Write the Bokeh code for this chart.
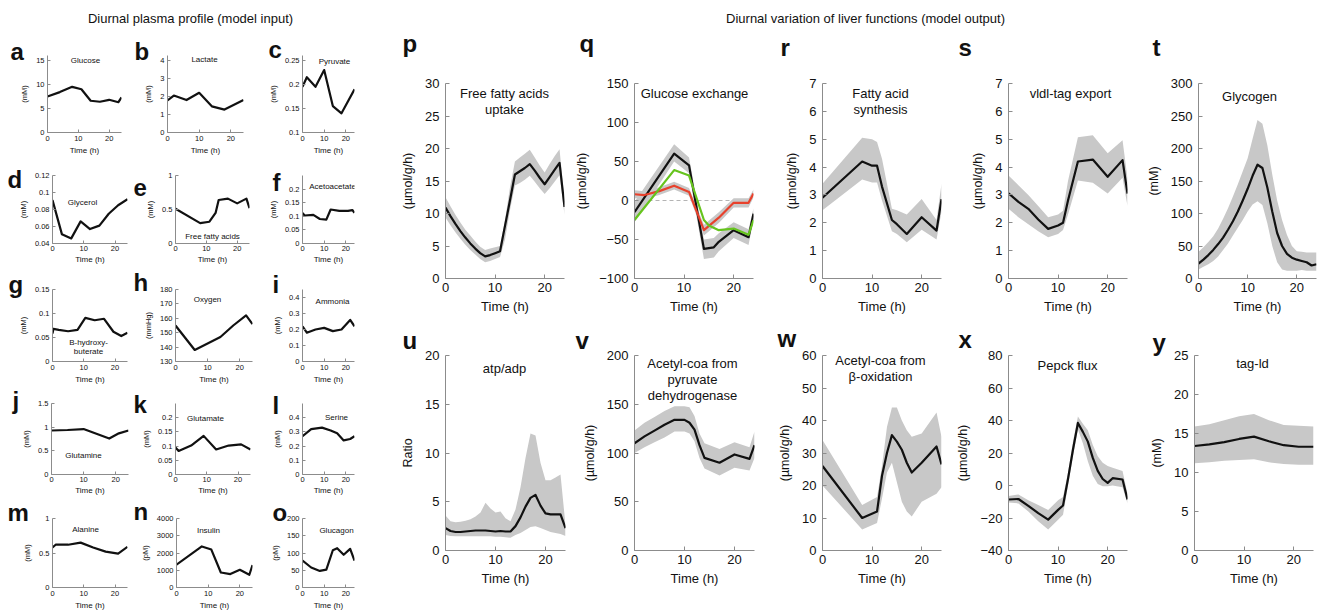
from bokeh.plotting import figure
from bokeh.models import Range1d, FixedTicker, Label, Span, CustomJSTickFormatter
from bokeh.layouts import row, column
from bokeh.embed import file_html
from bokeh.resources import INLINE

# ---------------------------------------------------------------- plasma inputs
GLUCOSE_T = [0, 4, 8, 11, 14, 17, 20, 23, 24]
GLUCOSE = [7.5, 8.4, 9.5, 9.0, 6.6, 6.4, 6.8, 6.3, 7.3]
LACTATE_T = [0, 2, 6, 10, 14, 18, 24]
LACTATE = [1.78, 2.05, 1.8, 2.2, 1.45, 1.27, 1.8]
PYRUVATE_T = [0, 2, 6, 10, 14, 18, 24]
PYRUVATE = [0.195, 0.215, 0.195, 0.23, 0.155, 0.14, 0.19]
GLYCEROL_T = [0, 3, 6, 9, 12, 15, 18, 21, 24]
GLYCEROL = [0.091, 0.051, 0.046, 0.066, 0.057, 0.061, 0.075, 0.085, 0.092]
FFA_T = [0, 8, 11, 13, 14, 17, 20, 23, 24]
FFA = [0.51, 0.30, 0.32, 0.45, 0.64, 0.66, 0.59, 0.66, 0.52]
ACETOACETATE_T = [0, 1, 5, 8, 11, 13, 17, 21, 23, 24]
ACETOACETATE = [0.112, 0.103, 0.105, 0.090, 0.088, 0.125, 0.120, 0.120, 0.123, 0.113]
BHB_T = [0, 0.3, 2, 5, 8, 10.5, 13.5, 16.5, 19.5, 22, 24]
BHB = [0.058, 0.068, 0.066, 0.063, 0.066, 0.091, 0.086, 0.089, 0.062, 0.053, 0.060]
OXYGEN_T = [0, 6, 10, 14, 18, 22, 24]
OXYGEN = [155, 138, 142.5, 147, 155, 162, 156]
AMMONIA_T = [0, 2, 6, 10, 14, 18, 22, 24]
AMMONIA = [0.22, 0.18, 0.20, 0.21, 0.19, 0.20, 0.26, 0.22]
GLUTAMINE_T = [0, 5, 10, 14, 18, 21, 24]
GLUTAMINE = [0.93, 0.94, 0.96, 0.86, 0.76, 0.87, 0.93]
GLUTAMATE_T = [0, 1, 5, 9, 13, 17, 21, 24]
GLUTAMATE = [0.095, 0.083, 0.102, 0.136, 0.088, 0.102, 0.106, 0.088]
SERINE_T = [0, 4, 9, 13, 16, 19, 22, 24]
SERINE = [0.27, 0.32, 0.33, 0.31, 0.29, 0.24, 0.25, 0.27]
ALANINE_T = [0, 1, 5, 9, 13, 17, 21, 24]
ALANINE = [0.58, 0.62, 0.62, 0.65, 0.58, 0.52, 0.49, 0.59]
INSULIN_T = [0, 8, 11, 14, 17, 20, 23, 24]
INSULIN = [1320, 2380, 2200, 870, 780, 1030, 740, 1300]
GLUCAGON_T = [0, 4, 8, 11, 14, 16, 19, 22, 24]
GLUCAGON = [78, 58, 48, 52, 108, 114, 95, 112, 78]

# ---------------------------------------------------------------- model outputs
HOURS = list(range(25))

FFA_UPTAKE = [10.9, 9.6, 8.4, 7.3, 6.3, 5.4, 4.6, 3.9, 3.4, 3.6, 3.9, 4.2, 8.1, 12.0,
              16.0, 16.5, 17.0, 17.6, 16.6, 15.5, 14.5, 15.6, 16.7, 17.8, 11.0]
FFA_UPTAKE_LO = [9.4, 8.2, 7.1, 6.1, 5.2, 4.4, 3.7, 3.0, 2.5, 2.7, 3.0, 3.3, 6.0, 10.5,
                 14.3, 14.7, 15.2, 15.8, 14.9, 13.9, 13.0, 13.9, 14.9, 15.9, 9.8]
FFA_UPTAKE_HI = [12.5, 11.1, 9.8, 8.6, 7.5, 6.6, 5.7, 4.9, 4.4, 4.6, 4.8, 5.0, 9.0, 14.0,
                 18.0, 18.6, 19.2, 19.8, 18.6, 17.4, 16.3, 17.6, 18.8, 19.9, 12.0]

GLC_BLACK_T = [0, 8, 11, 14, 16, 17, 20, 23, 24]
GLC_BLACK = [-15, 60, 45, -62, -60, -53, -38, -47, -17]
GLC_BLACK_LO = [-28, 50, 35, -75, -73, -65, -48, -57, -25]
GLC_BLACK_HI = [-2, 72, 55, -50, -48, -42, -28, -37, -10]
GLC_GREEN_T = [0, 8, 11, 14, 15, 17, 20, 23, 24]
GLC_GREEN = [-25, 39, 32, -25, -32, -38, -36, -44, -25]
GLC_RED_T = [0, 2, 5, 8, 11, 14, 17, 20, 23, 24]
GLC_RED = [8, 7, 12, 19, 11, -38, -22, -3, -3, 9]
GLC_RED_LO = [3, 2, 7, 14, 6, -45, -29, -9, -9, 4]
GLC_RED_HI = [13, 12, 17, 24, 16, -31, -15, 3, 3, 14]

FAS_T = [0, 8, 10, 11, 12, 14, 15, 17, 20, 23, 24]
FAS = [2.9, 4.2, 4.05, 4.05, 3.3, 2.1, 1.95, 1.6, 2.2, 1.72, 2.85]
FAS_LO = [2.45, 3.55, 3.45, 3.45, 2.8, 1.7, 1.6, 1.3, 1.75, 1.4, 2.4]
FAS_HI = [3.4, 5.05, 5.0, 4.9, 4.3, 2.5, 2.45, 2.3, 2.85, 2.1, 3.4]

VLDL_T = [0, 2, 4, 6, 8, 10, 11, 12, 14, 17, 20, 23, 24]
VLDL = [3.06, 2.75, 2.5, 2.12, 1.78, 1.9, 2.0, 2.8, 4.2, 4.27, 3.65, 4.25, 3.05]
VLDL_LO = [2.5, 2.2, 1.95, 1.7, 1.48, 1.6, 1.74, 2.3, 3.52, 3.44, 3.05, 3.62, 2.6]
VLDL_HI = [3.7, 3.35, 3.0, 2.6, 2.2, 2.3, 2.43, 3.5, 5.07, 5.14, 4.5, 4.96, 3.6]

GLYCOGEN = [23, 29, 36, 44, 53, 63, 75, 88, 103, 120, 138, 158, 175, 170, 140, 103,
            70, 50, 38, 32, 29, 27, 25, 20, 22]
GLYCOGEN_LO = [14, 18, 22, 27, 34, 44, 54, 66, 78, 90, 103, 114, 119, 113, 85, 50,
               25, 14, 12, 12, 12, 13, 12, 12, 12]
GLYCOGEN_HI = [41, 48, 56, 65, 77, 92, 108, 126, 145, 165, 185, 215, 244, 238, 205, 160,
               120, 90, 67, 50, 42, 41, 40, 40, 40]

ATP_ADP = [2.3, 2.0, 1.9, 1.9, 1.95, 2.0, 2.05, 2.05, 2.05, 2.0, 1.95, 2.0, 1.95, 1.95,
           2.5, 3.4, 4.5, 5.4, 5.7, 4.6, 3.8, 3.7, 3.7, 3.7, 2.3]
ATP_ADP_LO = [1.6, 1.5, 1.45, 1.45, 1.45, 1.45, 1.45, 1.45, 1.45, 1.45, 1.4, 1.4, 1.35, 1.3,
              1.6, 1.8, 2.1, 2.4, 2.5, 2.3, 2.1, 1.9, 1.8, 1.7, 1.5]
ATP_ADP_HI = [3.6, 3.0, 2.9, 2.95, 3.05, 3.2, 3.5, 3.9, 4.9, 4.3, 3.9, 4.0, 3.3, 3.0,
              4.2, 6.5, 9.5, 12.0, 11.8, 9.0, 7.2, 7.2, 7.5, 7.8, 2.6]

PDH_T = [0, 2, 4, 6, 8, 10, 11, 12, 13, 14, 17, 20, 23, 24]
PDH = [110, 117, 123, 129, 134, 134, 131, 124, 108, 95, 90, 98.5, 94, 108]
PDH_LO = [100, 106, 111, 116, 122, 122, 120, 112, 95, 84, 77, 85, 82, 95]
PDH_HI = [123, 131, 137, 143, 148, 148, 147, 138, 120, 110, 104, 111, 106, 122]

BOX_T = [0, 8, 11, 12, 13, 14, 15, 16, 17, 18, 20, 23, 24]
BOX = [26, 10, 12, 23, 30, 35.5, 33.5, 31, 27, 24, 27, 32, 26.5]
BOX_LO = [20, 6.5, 8.5, 16, 24, 27, 21, 15, 12, 10.5, 15, 17.5, 19.5]
BOX_HI = [34, 14, 16.5, 26, 38, 44, 44, 40, 37, 35, 36, 42.5, 35]

PEPCK_T = [0, 2, 4, 6, 8, 10, 11, 12, 13, 14, 15, 16, 17, 18, 19, 20, 21, 23, 24]
PEPCK = [-8.6, -8.3, -12.5, -17, -21, -15, -12.3, 4, 22, 38.5, 33, 27, 17, 9, 4, 1.6, 4.5, 3.7, -8.6]
PEPCK_LO = [-10.5, -11, -16, -22, -27, -21, -18, 0, 18, 34.5, 26, 15, 6, 1, -0.5, -0.5, 0, -1, -11]
PEPCK_HI = [-6.5, -5.5, -9, -12, -15, -9, -7, 8, 27, 42.5, 38, 34, 25, 18, 14, 12, 11, 9, -5]

TAG_LD_T = [0, 3, 6, 9, 12, 15, 18, 21, 24]
TAG_LD = [13.4, 13.6, 13.9, 14.3, 14.6, 14.0, 13.5, 13.3, 13.3]
TAG_LD_LO = [11.2, 11.3, 11.5, 11.6, 11.7, 11.3, 11.1, 11.0, 11.0]
TAG_LD_HI = [15.9, 16.2, 16.7, 17.2, 17.5, 16.7, 16.1, 16.0, 15.9]

TIME_TICKS = [0, 10, 20]

# ---------------------------------------------------------------- styling
FONT = "Liberation Sans"
INK = "#111111"
AXIS = "#8c8c8c"
BAND = "#c8c8c8"
GREEN = "#66c41e"
RED = "#e8412c"
DESCENT = 5  # approximate descent of the 24px bold panel letters

NUM_FMT = CustomJSTickFormatter(
    code="return (Math.round(tick * 10000) / 10000).toString().replace('-', '\u2212');")


def panel(box, frame, yr, yticks, ylabel, small, pad_top=0):
    """A time-course axes; `frame` is the inner plotting box in page pixels.
    `pad_top` lifts the frame top a few pixels above the top tick."""
    x0, y0, x1, y1 = box
    fl, ft, fr, fb = frame
    lo, hi = yr
    hi_pad = hi + (hi - lo) * pad_top / float(fb - ft)
    p = figure(width=x1 - x0, height=y1 - y0,
               x_range=Range1d(0, 24), y_range=Range1d(lo, hi_pad),
               output_backend="svg", toolbar_location=None,
               min_border_left=fl - x0, min_border_right=x1 - fr,
               min_border_top=ft - pad_top - y0, min_border_bottom=y1 - fb)
    p.outline_line_color = None
    p.background_fill_color = "white"
    p.border_fill_color = "white"
    p.xgrid.visible = False
    p.ygrid.visible = False
    tick_fs = "7.5px" if small else "13px"
    lab_fs = "8px" if small else "13px"
    ylab_fs = "7.5px" if small else "12.5px"
    p.xaxis.ticker = FixedTicker(ticks=TIME_TICKS)
    p.yaxis.ticker = FixedTicker(ticks=yticks)
    p.xaxis.axis_label = "Time (h)"
    p.yaxis.axis_label = ylabel
    for ax in (p.xaxis[0], p.yaxis[0]):
        ax.formatter = NUM_FMT
        ax.axis_line_color = AXIS
        ax.axis_line_width = 1
        ax.major_tick_line_color = AXIS
        ax.major_tick_in = 3 if small else 4
        ax.major_tick_out = 0
        ax.minor_tick_line_color = None
        ax.major_label_text_font = FONT
        ax.major_label_text_font_size = tick_fs
        ax.major_label_text_color = INK
        ax.axis_label_text_font = FONT
        ax.axis_label_text_font_style = "normal"
        ax.axis_label_text_color = INK
    p.xaxis.axis_label_text_font_size = lab_fs
    p.yaxis.axis_label_text_font_size = ylab_fs
    if small:
        p.xaxis.major_label_standoff = 3
        p.xaxis.axis_label_standoff = 2
        p.yaxis.major_label_standoff = 3
        p.yaxis.axis_label_standoff = 4
    else:
        p.xaxis.major_label_standoff = 4
        p.xaxis.axis_label_standoff = 4
        p.yaxis.major_label_standoff = 6
        p.yaxis.axis_label_standoff = 7
    return p


def put_text(p, frame, X, Y, text, size, align="center", baseline="middle", style="normal"):
    fl, ft, fr, fb = frame
    p.add_layout(Label(x=X - fl, y=fb - Y, x_units="screen", y_units="screen",
                       text=text, text_font=FONT, text_font_size=size,
                       text_align=align, text_baseline=baseline,
                       text_font_style=style, text_color=INK))


def letter_title(p, frame, pad_top, X, baseline, letter):
    """Panel letter drawn as the figure title, shifted left of the frame."""
    fl, ft, fr, fb = frame
    top = ft - pad_top
    p.title.text = letter
    p.title.align = "left"
    p.title.vertical_align = "bottom"
    p.title.offset = X - fl
    p.title.standoff = 2 * (top - (baseline + DESCENT))
    p.title.text_font = FONT
    p.title.text_font_size = "24px"
    p.title.text_font_style = "bold"
    p.title.text_color = INK


def strip(width, height, x0, y0, items):
    """Axis-free band holding headings and panel letters (page coordinates)."""
    s = figure(width=width, height=height, x_range=Range1d(0, 1), y_range=Range1d(0, 1),
               output_backend="svg", toolbar_location=None,
               x_axis_location=None, y_axis_location=None, min_border=0)
    s.outline_line_color = None
    s.xgrid.visible = False
    s.ygrid.visible = False
    for X, Y, text, size, style, align, baseline in items:
        s.add_layout(Label(x=X - x0, y=y0 + height - Y, x_units="screen", y_units="screen",
                           text=text, text_font=FONT, text_font_size=size,
                           text_font_style=style, text_align=align,
                           text_baseline=baseline, text_color=INK))
    return s


# ---------------------------------------------------------------- left block: plasma profiles
LCOLS = [0, 129, 262, 385]
LROWS = [30, 160, 266, 386, 497, 612]
COMPACT_ROWS = (1, 3)   # rows with little room below the axes

left_specs = [
    # letter, name lines, series, y-range, ticks, ylabel, frame, letter pos, name pos, pad
    ("a", ["Glucose"], (GLUCOSE_T, GLUCOSE), (0, 15), [0, 5, 10, 15], "(mM)",
     (47, 58, 121, 132), (10, 57), (85, 60), 5),
    ("b", ["Lactate"], (LACTATE_T, LACTATE), (0, 4), [0, 1, 2, 3, 4], "(mM)",
     (167, 58, 243, 132), (134, 57), (204, 59), 5),
    ("c", ["Pyruvate"], (PYRUVATE_T, PYRUVATE), (0.1, 0.25), [0.1, 0.15, 0.2, 0.25], "(mM)",
     (302, 60, 354, 133), (268, 57), (334, 62), 5),
    ("d", ["Glycerol"], (GLYCEROL_T, GLYCEROL), (0.04, 0.12), [0.04, 0.06, 0.08, 0.1, 0.12], "(mM)",
     (52, 175, 127, 245), (7, 187), (82, 204), 0),
    ("e", ["Free fatty acids"], (FFA_T, FFA), (0, 1), [0, 0.5, 1], "(mM)",
     (175, 172, 249, 246), (133, 187), (212, 239), 0),
    ("f", ["Acetoacetate"], (ACETOACETATE_T, ACETOACETATE), (0, 0.25), [0, 0.05, 0.1, 0.15, 0.2], "(mM)",
     (302, 173, 354, 246), (272, 188), (332, 189), 0),
    ("g", ["B-hydroxy-", "buterate"], (BHB_T, BHB), (0, 0.15), [0, 0.05, 0.1, 0.15], "(mM)",
     (52, 285, 127, 361), (8, 288), (88, 342), 0),
    ("h", ["Oxygen"], (OXYGEN_T, OXYGEN), (130, 180), [130, 140, 150, 160, 170, 180], "(mmHg)",
     (175, 289, 252, 361), (133, 290), (207, 299), 0),
    ("i", ["Ammonia"], (AMMONIA_T, AMMONIA), (0, 0.45), [0, 0.1, 0.2, 0.3, 0.4], "(mM)",
     (302, 287, 354, 361), (272, 290), (332, 301), 0),
    ("j", ["Glutamine"], (GLUTAMINE_T, GLUTAMINE), (0, 1.5), [0, 0.5, 1, 1.5], "(mM)",
     (51, 403, 128, 476), (12, 408), (83, 457), 0),
    ("k", ["Glutamate"], (GLUTAMATE_T, GLUTAMATE), (0, 0.25), [0, 0.05, 0.1, 0.15, 0.2], "(mM)",
     (175, 403, 250, 475), (133, 412), (205, 419), 0),
    ("l", ["Serine"], (SERINE_T, SERINE), (0, 0.5), [0, 0.1, 0.2, 0.3, 0.4], "(mM)",
     (302, 402, 354, 476), (272, 412), (336, 419), 0),
    ("m", ["Alanine"], (ALANINE_T, ALANINE), (0, 1), [0, 0.5, 1], "(mM)",
     (52, 517, 127, 590), (7, 519), (85, 532), 0),
    ("n", ["Insulin"], (INSULIN_T, INSULIN), (0, 4000), [0, 1000, 2000, 3000, 4000], "(pM)",
     (176, 518, 252, 590), (133, 519), (208, 533), 0),
    ("o", ["Glucagon"], (GLUCAGON_T, GLUCAGON), (0, 200), [0, 50, 100, 150, 200], "(pM)",
     (302, 517, 354, 590), (272, 519), (336, 533), 0),
]

left_rows = []
for r in range(5):
    figs = []
    for c in range(3):
        letter, names, (tt, vv), yr, yt, ylab, frame, lpos, npos, pad = left_specs[r * 3 + c]
        box = (LCOLS[c], LROWS[r], LCOLS[c + 1], LROWS[r + 1])
        p = panel(box, frame, yr, yt, ylab, small=True, pad_top=pad)
        if r in COMPACT_ROWS:
            p.xaxis.major_label_standoff = 2
            p.xaxis.axis_label_standoff = 1
        p.line(tt, vv, line_color=INK, line_width=2.2, line_join="round")
        letter_title(p, frame, pad, lpos[0], lpos[1], letter)
        for k, nm in enumerate(names):
            put_text(p, frame, npos[0], npos[1] + 9 * k, nm, "8px")
        figs.append(p)
    left_rows.append(row(*figs, spacing=0))

# ---------------------------------------------------------------- right block: liver functions
RCOLS = [385, 572, 770, 950, 1140, 1321]
RROWS = [62, 316, 612]
FLUX = "(\u00b5mol/g/h)"

right_specs = [
    ("p", ["Free fatty acids", "uptake"], (0, 30), [0, 5, 10, 15, 20, 25, 30], FLUX,
     (445, 83, 564, 278), (402, 51), (504, 93)),
    ("q", ["Glucose exchange"], (-100, 150), [-100, -50, 0, 50, 100, 150], FLUX,
     (633, 83, 753, 278), (579, 51), (693, 93)),
    ("r", ["Fatty acid", "synthesis"], (0, 7), [0, 1, 2, 3, 4, 5, 6, 7], FLUX,
     (822, 82, 941, 278), (780, 55), (880, 93)),
    ("s", ["vldl-tag export"], (0, 7), [0, 1, 2, 3, 4, 5, 6, 7], FLUX,
     (1008, 82, 1127, 278), (958, 55), (1070, 93)),
    ("t", ["Glycogen"], (0, 300), [0, 50, 100, 150, 200, 250, 300], "(mM)",
     (1198, 82, 1316, 278), (1152, 55), (1249, 96)),
    ("u", ["atp/adp"], (0, 20), [0, 5, 10, 15, 20], "Ratio",
     (445, 355, 565, 552), (402, 348), (504, 370)),
    ("v", ["Acetyl-coa from", "pyruvate", "dehydrogenase"], (0, 200), [0, 50, 100, 150, 200], FLUX,
     (634, 355, 754, 552), (575, 348), (692, 365)),
    ("w", ["Acetyl-coa from", "\u03b2-oxidation"], (0, 60), [0, 10, 20, 30, 40, 50, 60], FLUX,
     (822, 355, 941, 552), (777, 346), (880, 362)),
    ("x", ["Pepck flux"], (-40, 80), [-40, -20, 0, 20, 40, 60, 80], FLUX,
     (1008, 355, 1127, 552), (958, 347), (1067, 367)),
    ("y", ["tag-ld"], (0, 25), [0, 5, 10, 15, 20, 25], "(mM)",
     (1194, 355, 1313, 550), (1152, 350), (1252, 363)),
]

right_series = {
    "p": (HOURS, FFA_UPTAKE, FFA_UPTAKE_LO, FFA_UPTAKE_HI),
    "q": (GLC_BLACK_T, GLC_BLACK, GLC_BLACK_LO, GLC_BLACK_HI),
    "r": (FAS_T, FAS, FAS_LO, FAS_HI),
    "s": (VLDL_T, VLDL, VLDL_LO, VLDL_HI),
    "t": (HOURS, GLYCOGEN, GLYCOGEN_LO, GLYCOGEN_HI),
    "u": (HOURS, ATP_ADP, ATP_ADP_LO, ATP_ADP_HI),
    "v": (PDH_T, PDH, PDH_LO, PDH_HI),
    "w": (BOX_T, BOX, BOX_LO, BOX_HI),
    "x": (PEPCK_T, PEPCK, PEPCK_LO, PEPCK_HI),
    "y": (TAG_LD_T, TAG_LD, TAG_LD_LO, TAG_LD_HI),
}


def right_panel(spec, box, letter_in_title):
    letter, names, yr, yt, ylab, frame, lpos, npos = spec
    p = panel(box, frame, yr, yt, ylab, small=False)
    tt, mean, lo, hi = right_series[letter]
    if letter == "q":
        p.add_layout(Span(location=0, dimension="width", line_color="#b4b4b4",
                          line_dash="4 3", line_width=1, level="underlay"))
        p.varea(x=tt, y1=lo, y2=hi, fill_color=BAND, fill_alpha=1)
        p.varea(x=GLC_RED_T, y1=GLC_RED_LO, y2=GLC_RED_HI, fill_color=BAND, fill_alpha=1)
        p.line(tt, mean, line_color=INK, line_width=2.2, line_join="round")
        p.line(GLC_RED_T, GLC_RED, line_color=RED, line_width=2.2, line_join="round")
        p.line(GLC_GREEN_T, GLC_GREEN, line_color=GREEN, line_width=2.2, line_join="round")
    else:
        p.varea(x=tt, y1=lo, y2=hi, fill_color=BAND, fill_alpha=1)
        p.line(tt, mean, line_color=INK, line_width=2.2, line_join="round")
    if letter_in_title:
        letter_title(p, frame, 0, lpos[0], lpos[1], letter)
    for k, nm in enumerate(names):
        put_text(p, frame, npos[0], npos[1] + 16 * k, nm, "13px")
    return p


top_figs = [right_panel(right_specs[c], (RCOLS[c], RROWS[0], RCOLS[c + 1], RROWS[1]), False)
            for c in range(5)]
bottom_figs = [right_panel(right_specs[5 + c], (RCOLS[c], RROWS[1], RCOLS[c + 1], RROWS[2]), True)
               for c in range(5)]

# heading and the top-row letters sit in a band above the first row of panels
top_band = strip(936, 62, 385, 0,
                 [(865, 18, "Diurnal variation of liver functions (model output)", "13px",
                   "normal", "center", "middle")] +
                 [(s[6][0], s[6][1] + DESCENT, s[0], "24px", "bold", "left", "bottom")
                  for s in right_specs[:5]])

left_header = strip(385, 30, 0, 0,
                    [(190, 18, "Diurnal plasma profile (model input)", "13px",
                      "normal", "center", "middle")])

left_block = column(left_header, *left_rows, spacing=0)
right_block = column(top_band, row(*top_figs, spacing=0),
                     row(*bottom_figs, spacing=0), spacing=0)
layout = row(left_block, right_block, spacing=0)

open("out.html", "w").write(file_html(layout, INLINE))
